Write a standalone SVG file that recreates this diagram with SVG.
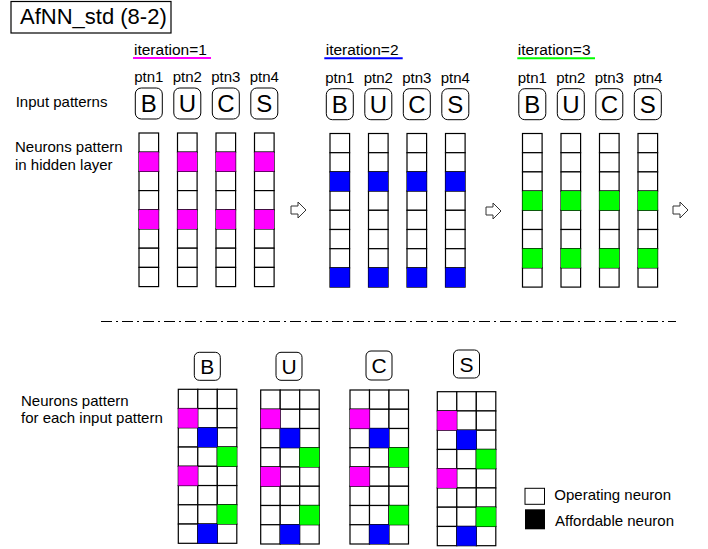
<svg xmlns="http://www.w3.org/2000/svg" xmlns:xlink="http://www.w3.org/1999/xlink" width="708" height="549" viewBox="0 0 708 549">
<style>
text{font-family:"Liberation Sans",Arial,sans-serif;fill:#000}
.lbl{font-size:15px}
.it{font-size:15.5px}
.ptn{font-size:15px;text-anchor:middle}
.big{font-size:24px;text-anchor:middle}
.mid{font-size:21px;text-anchor:middle}
.cell{fill:#fff;stroke:#000;stroke-width:1.2}
.lbox{fill:#fff;stroke:#000;stroke-width:1}
.m{fill:#ff00ff}
.b{fill:#0000ff}
.g{fill:#00ff00}
.arrow{fill:#fff;stroke:#333;stroke-width:1}
</style>
<defs>
<g id="col8">
<rect class="cell" x="0" y="0" width="19.6" height="19.2"/>
<rect class="cell" x="0" y="19.2" width="19.6" height="19.2"/>
<rect class="cell" x="0" y="38.4" width="19.6" height="19.2"/>
<rect class="cell" x="0" y="57.6" width="19.6" height="19.2"/>
<rect class="cell" x="0" y="76.8" width="19.6" height="19.2"/>
<rect class="cell" x="0" y="96" width="19.6" height="19.2"/>
<rect class="cell" x="0" y="115.2" width="19.6" height="19.2"/>
<rect class="cell" x="0" y="134.4" width="19.6" height="19.2"/>
</g>
<g id="row3">
<rect class="cell" x="0" y="0" width="19.5" height="19.25"/>
<rect class="cell" x="19.5" y="0" width="19.5" height="19.25"/>
<rect class="cell" x="39" y="0" width="19.5" height="19.25"/>
</g>
<g id="grid3x8">
<use xlink:href="#row3" y="0"/>
<use xlink:href="#row3" y="19.25"/>
<use xlink:href="#row3" y="38.5"/>
<use xlink:href="#row3" y="57.75"/>
<use xlink:href="#row3" y="77"/>
<use xlink:href="#row3" y="96.25"/>
<use xlink:href="#row3" y="115.5"/>
<use xlink:href="#row3" y="134.75"/>
<rect class="m" x="0" y="19.25" width="19.5" height="19.25"/>
<rect class="m" x="0" y="77" width="19.5" height="19.25"/>
<rect class="b" x="19.5" y="38.5" width="19.5" height="19.25"/>
<rect class="b" x="19.5" y="134.75" width="19.5" height="19.25"/>
<rect class="g" x="39" y="57.75" width="19.5" height="19.25"/>
<rect class="g" x="39" y="115.5" width="19.5" height="19.25"/>
</g>
<path id="harrow" class="arrow" d="M0,-4 H7 V-8 L15,0 L7,8 V4 H0 Z"/>
</defs>

<g id="title">
<rect x="11" y="1.5" width="160" height="31.5" fill="#fff" stroke="#000" stroke-width="1.2"/>
<text x="20" y="23.5" style="font-size:22px">AfNN_std (8-2)</text>
</g>

<g id="row-labels">
<text class="lbl" x="15.7" y="107.3">Input patterns</text>
<text class="lbl" x="15" y="151.5">Neurons pattern</text>
<text class="lbl" x="15" y="170">in hidden layer</text>
</g>

<g id="iteration1">
<text class="it" x="134" y="54.5">iteration=1</text>
<line x1="133" y1="58" x2="211" y2="58" stroke="#ff00ff" stroke-width="2"/>
<text class="ptn" x="148.8" y="82">ptn1</text>
<text class="ptn" x="187.3" y="82">ptn2</text>
<text class="ptn" x="225.8" y="82">ptn3</text>
<text class="ptn" x="264.3" y="82">ptn4</text>
<rect class="lbox" x="135.3" y="88" width="27" height="31" rx="6"/>
<rect class="lbox" x="173.8" y="88" width="27" height="31" rx="6"/>
<rect class="lbox" x="212.3" y="88" width="27" height="31" rx="6"/>
<rect class="lbox" x="250.8" y="88" width="27" height="31" rx="6"/>
<text class="big" x="148.8" y="112">B</text>
<text class="big" x="187.3" y="112">U</text>
<text class="big" x="225.8" y="112">C</text>
<text class="big" x="264.3" y="112">S</text>
<use xlink:href="#col8" x="139" y="133"/>
<use xlink:href="#col8" x="177.5" y="133"/>
<use xlink:href="#col8" x="216" y="133"/>
<use xlink:href="#col8" x="254.5" y="133"/>
<rect class="m" x="139" y="152.2" width="19.6" height="19.2"/>
<rect class="m" x="177.5" y="152.2" width="19.6" height="19.2"/>
<rect class="m" x="216" y="152.2" width="19.6" height="19.2"/>
<rect class="m" x="254.5" y="152.2" width="19.6" height="19.2"/>
<rect class="m" x="139" y="209.8" width="19.6" height="19.2"/>
<rect class="m" x="177.5" y="209.8" width="19.6" height="19.2"/>
<rect class="m" x="216" y="209.8" width="19.6" height="19.2"/>
<rect class="m" x="254.5" y="209.8" width="19.6" height="19.2"/>
</g>

<g id="iteration2">
<text class="it" x="325.7" y="55">iteration=2</text>
<line x1="324.3" y1="58.3" x2="402.7" y2="58.3" stroke="#0000ff" stroke-width="2"/>
<text class="ptn" x="339.8" y="83">ptn1</text>
<text class="ptn" x="378.3" y="83">ptn2</text>
<text class="ptn" x="416.8" y="83">ptn3</text>
<text class="ptn" x="455.3" y="83">ptn4</text>
<rect class="lbox" x="326.3" y="88.7" width="27" height="31" rx="6"/>
<rect class="lbox" x="364.8" y="88.7" width="27" height="31" rx="6"/>
<rect class="lbox" x="403.3" y="88.7" width="27" height="31" rx="6"/>
<rect class="lbox" x="441.8" y="88.7" width="27" height="31" rx="6"/>
<text class="big" x="339.8" y="112.7">B</text>
<text class="big" x="378.3" y="112.7">U</text>
<text class="big" x="416.8" y="112.7">C</text>
<text class="big" x="455.3" y="112.7">S</text>
<use xlink:href="#col8" x="330" y="133.5"/>
<use xlink:href="#col8" x="368.5" y="133.5"/>
<use xlink:href="#col8" x="407" y="133.5"/>
<use xlink:href="#col8" x="445.5" y="133.5"/>
<rect class="b" x="330" y="171.9" width="19.6" height="19.2"/>
<rect class="b" x="368.5" y="171.9" width="19.6" height="19.2"/>
<rect class="b" x="407" y="171.9" width="19.6" height="19.2"/>
<rect class="b" x="445.5" y="171.9" width="19.6" height="19.2"/>
<rect class="b" x="330" y="267.9" width="19.6" height="19.2"/>
<rect class="b" x="368.5" y="267.9" width="19.6" height="19.2"/>
<rect class="b" x="407" y="267.9" width="19.6" height="19.2"/>
<rect class="b" x="445.5" y="267.9" width="19.6" height="19.2"/>
</g>

<g id="iteration3">
<text class="it" x="517.7" y="55">iteration=3</text>
<line x1="517.3" y1="58.3" x2="595" y2="58.3" stroke="#00ff00" stroke-width="2"/>
<text class="ptn" x="532.3" y="83">ptn1</text>
<text class="ptn" x="570.8" y="83">ptn2</text>
<text class="ptn" x="609.3" y="83">ptn3</text>
<text class="ptn" x="647.8" y="83">ptn4</text>
<rect class="lbox" x="518.8" y="88.7" width="27" height="31" rx="6"/>
<rect class="lbox" x="557.3" y="88.7" width="27" height="31" rx="6"/>
<rect class="lbox" x="595.8" y="88.7" width="27" height="31" rx="6"/>
<rect class="lbox" x="634.3" y="88.7" width="27" height="31" rx="6"/>
<text class="big" x="532.3" y="112.7">B</text>
<text class="big" x="570.8" y="112.7">U</text>
<text class="big" x="609.3" y="112.7">C</text>
<text class="big" x="647.8" y="112.7">S</text>
<use xlink:href="#col8" x="522.5" y="133.5"/>
<use xlink:href="#col8" x="561" y="133.5"/>
<use xlink:href="#col8" x="599.5" y="133.5"/>
<use xlink:href="#col8" x="638" y="133.5"/>
<rect class="g" x="522.5" y="191.1" width="19.6" height="19.2"/>
<rect class="g" x="561" y="191.1" width="19.6" height="19.2"/>
<rect class="g" x="599.5" y="191.1" width="19.6" height="19.2"/>
<rect class="g" x="638" y="191.1" width="19.6" height="19.2"/>
<rect class="g" x="522.5" y="248.7" width="19.6" height="19.2"/>
<rect class="g" x="561" y="248.7" width="19.6" height="19.2"/>
<rect class="g" x="599.5" y="248.7" width="19.6" height="19.2"/>
<rect class="g" x="638" y="248.7" width="19.6" height="19.2"/>
</g>

<g id="connectors">
<use xlink:href="#harrow" x="291" y="210"/>
<use xlink:href="#harrow" x="486" y="211"/>
<use xlink:href="#harrow" x="673" y="210"/>
</g>

<g id="separator">
<line x1="101" y1="321.5" x2="676" y2="321.5" stroke="#000" stroke-width="1.2" stroke-dasharray="11 4 2 4"/>
</g>

<g id="bottom-label">
<text class="lbl" x="21" y="405.7">Neurons pattern</text>
<text class="lbl" x="21" y="423.4">for each input pattern</text>
</g>

<g id="pattern-B">
<rect class="lbox" x="194.3" y="352.3" width="26" height="28" rx="5"/>
<text class="mid" x="207.3" y="373.8">B</text>
<use xlink:href="#grid3x8" x="178.3" y="389.3"/>
</g>
<g id="pattern-U">
<rect class="lbox" x="276" y="352.3" width="26" height="28" rx="5"/>
<text class="mid" x="289" y="373.8">U</text>
<use xlink:href="#grid3x8" x="260.7" y="390"/>
</g>
<g id="pattern-C">
<rect class="lbox" x="366" y="351" width="26" height="29" rx="5"/>
<text class="mid" x="379" y="373.3">C</text>
<use xlink:href="#grid3x8" x="350" y="390"/>
</g>
<g id="pattern-S">
<rect class="lbox" x="453.5" y="350" width="26" height="28" rx="5"/>
<text class="mid" x="466.5" y="371.8">S</text>
<use xlink:href="#grid3x8" x="437.3" y="391.7"/>
</g>

<g id="legend">
<rect x="525" y="488.3" width="19.5" height="16" fill="#fff" stroke="#000" stroke-width="1"/>
<text class="lbl" x="554.3" y="499.5">Operating neuron</text>
<rect x="525" y="509.3" width="20" height="20" fill="#000"/>
<text class="lbl" x="555" y="525.5">Affordable neuron</text>
</g>
</svg>
